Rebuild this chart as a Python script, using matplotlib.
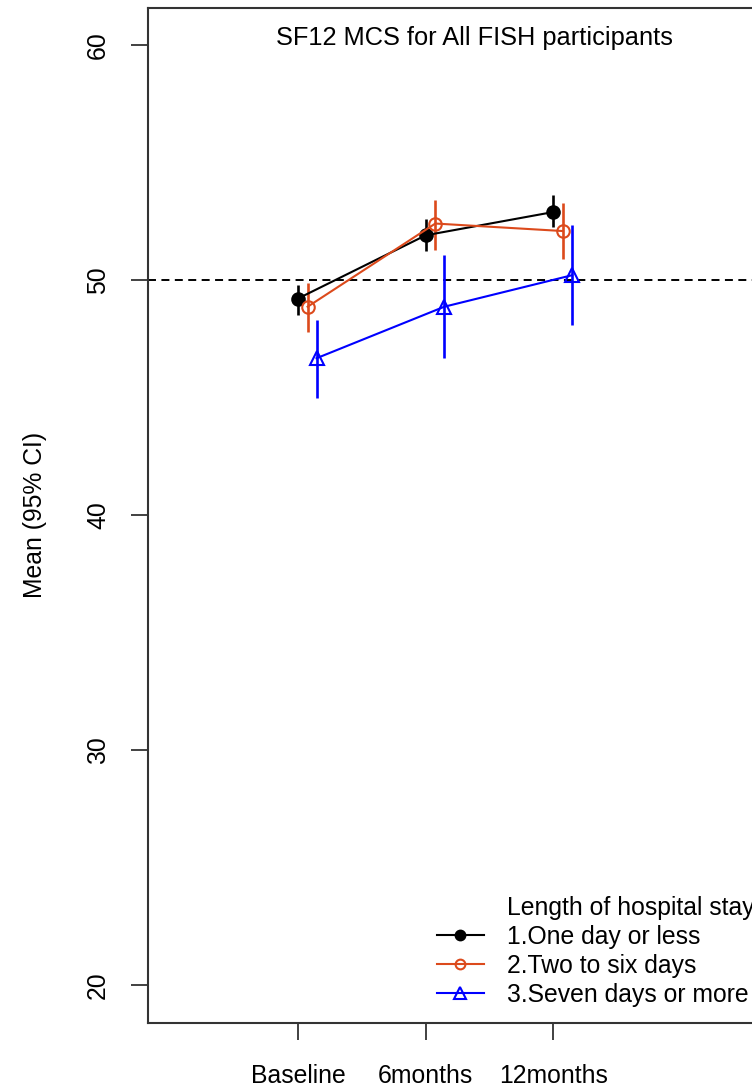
import matplotlib
matplotlib.use("Agg")
import matplotlib.pyplot as plt
from matplotlib.lines import Line2D
import numpy as np

plt.rcParams['font.family'] = ['Liberation Sans', 'DejaVu Sans']

# ---- data ----
timepoints = ["Baseline", "6months", "12months"]
groups = ["1.One day or less", "2.Two to six days", "3.Seven days or more"]
legend_title = "Length of hospital stay"
chart_title = "SF12 MCS for All FISH participants"

mean_g1 = [49.22, 51.91, 52.90]
low_g1 = [48.51, 51.23, 52.26]
high_g1 = [49.78, 52.62, 53.61]

mean_g2 = [48.87, 52.41, 52.09]
low_g2 = [47.81, 51.30, 50.88]
high_g2 = [49.89, 53.42, 53.28]

mean_g3 = [46.68, 48.87, 50.21]
low_g3 = [44.98, 46.68, 48.09]
high_g3 = [48.30, 51.06, 52.33]

reference_value = 50
yticks = [20, 30, 40, 50, 60]

colors = ["black", "#DC4A1C", "#0000FF"]
markers = ["o", "o", "^"]
facecolors = ["black", "none", "none"]
offsets = [0.0, 0.075, 0.145]

# ---- figure ----
W, H = 752, 1088
fig = plt.figure(figsize=(W / 100, H / 100), dpi=100)
left_px, right_px, top_px, bottom_px = 148, 800, 7.5, 1023
ax = fig.add_axes([left_px / W, (H - bottom_px) / H,
                   (right_px - left_px) / W, (bottom_px - top_px) / H])

FS = 17.8
x = np.arange(1, len(timepoints) + 1)

means = [mean_g1, mean_g2, mean_g3]
lows = [low_g1, low_g2, low_g3]
highs = [high_g1, high_g2, high_g3]

ax.axhline(reference_value, color="black", lw=1.4, linestyle=(0, (4.1, 2.8)), zorder=1)

handles = []
for i in range(3):
    xs = x + offsets[i]
    m = np.array(means[i])
    lo = np.array(lows[i])
    hi = np.array(highs[i])
    ax.vlines(xs, lo, hi, color=colors[i], lw=1.9, zorder=2)
    ax.plot(xs, m, color=colors[i], lw=1.5, marker=markers[i],
            markersize=9 if markers[i] == "o" else 10,
            markerfacecolor=facecolors[i], markeredgecolor=colors[i],
            markeredgewidth=1.5, zorder=3)
    handles.append(Line2D([], [], color=colors[i], lw=1.5, marker=markers[i],
                          markersize=7 if markers[i] == "o" else 8,
                          markerfacecolor=facecolors[i], markeredgecolor=colors[i],
                          markeredgewidth=1.5))

ax.set_xlim(-0.175, 1 + (right_px - 298) / 127.7)
ax.set_ylim(18.4, 61.6)

ax.set_xticks(x)
ax.set_xticklabels(timepoints, fontsize=FS)
ax.set_yticks(yticks)
ax.set_yticklabels([str(t) for t in yticks], fontsize=FS, rotation=90, va="center")

ax.tick_params(axis="both", direction="out", length=12.2, width=1.3, color="#333333")
ax.tick_params(axis="x", pad=17)
ax.tick_params(axis="y", pad=15)

for s in ax.spines.values():
    s.set_linewidth(1.5)
    s.set_color("#333333")

ax.set_ylabel("Mean (95% CI)", fontsize=FS)
ax.yaxis.set_label_coords(-(148 - 35) / (right_px - left_px), 0.5)
ax.yaxis.label.set_va("center")

ax.text(0.5, (bottom_px - 45) / (bottom_px - top_px), chart_title,
        transform=ax.transAxes, ha="center", va="baseline", fontsize=18.3)

blank = Line2D([], [], color="none")
ax.legend([blank] + handles, [legend_title] + groups,
          loc="lower left", bbox_to_anchor=(436.7 / W, (H - 1007) / H),
          bbox_transform=fig.transFigure, frameon=False, fontsize=FS,
          handlelength=1.9, handletextpad=0.96, borderpad=0,
          borderaxespad=0, labelspacing=0.2)

fig.savefig("out.png", dpi=100)
